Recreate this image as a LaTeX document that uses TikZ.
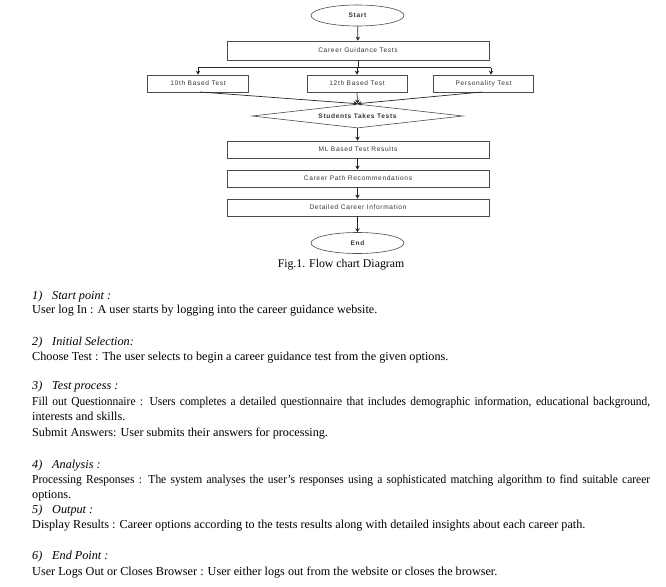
\documentclass[tikz,border=0pt]{standalone}
\usepackage{fontspec}
\setmainfont{Liberation Serif}
\newfontfamily\chartfont[LetterSpace=10]{Liberation Sans}
\usetikzlibrary{shapes.geometric,arrows.meta}
\begin{document}
\begin{tikzpicture}[x=1pt,y=-1pt,
  chart/.style={font=\chartfont\fontsize{6.6}{7}\selectfont, text=black!80},
  stepbox/.style={chart, draw=black!70, line width=0.7pt, inner sep=0pt, minimum width=262pt, minimum height=17pt},
  testbox/.style={chart, draw=black!70, line width=0.7pt, inner sep=0pt, minimum width=101pt, minimum height=17pt},
  term/.style={chart, font=\chartfont\bfseries\fontsize{6.6}{7}\selectfont, draw=black!70, line width=0.6pt, ellipse, inner sep=0pt, minimum width=93pt, minimum height=21pt},
  decision/.style={chart, font=\chartfont\bfseries\fontsize{6.6}{7}\selectfont, draw=black!70, line width=0.6pt, diamond, aspect=8.8, inner sep=0pt, minimum width=211pt, minimum height=24pt},
  arr/.style={draw=black!85, line width=0.7pt, -{Stealth[length=4pt,width=4.5pt]}},
  ln/.style={draw=black!85, line width=0.7pt},
  body/.style={font=\fontsize{12.2}{14}\selectfont, anchor=base west, inner sep=0pt},
  head/.style={font=\itshape\fontsize{12.2}{14}\selectfont, anchor=base west, inner sep=0pt}
]
\useasboundingbox (0,0) rectangle (666,586);

% flowchart
\node[term] (start) at (357.5,15.5) {Start};
\node[stepbox, minimum height=19pt] (cgt) at (358,50.5) {Career Guidance Tests};
\node[testbox] (t10) at (198,83.5) {10th Based Test};
\node[testbox, minimum width=100pt] (t12) at (357,83.5) {12th Based Test};
\node[testbox, minimum width=100pt] (pers) at (483.5,83.5) {Personality Test};
\node[decision] (dec) at (357.5,116) {Students Takes Tests};
\node[stepbox] (ml) at (358,149.5) {ML Based Test Results};
\node[stepbox] (cpr) at (358,178.5) {Career Path Recommendations};
\node[stepbox] (dci) at (358,207.5) {Detailed Career Information};
\node[term] (end) at (357.5,243) {End};

\coordinate (b0) at (358,67.5);
\coordinate (b1) at (198,67.5);
\coordinate (b2) at (357,67.5);
\coordinate (b3) at (491,67.5);
\coordinate (p10) at (200,92);
\coordinate (pp) at (482,92);

\draw[arr] (start) -- (cgt);
\draw[ln] (cgt.south -| b0) -- (b0);
\draw[ln] (b1) -- (b3);
\draw[arr] (b1) -- (b1 |- t10.north);
\draw[arr] (b2) -- (b2 |- t12.north);
\draw[arr] (b3) -- (b3 |- pers.north);
\draw[arr] (p10) -- (dec.north);
\draw[arr] (t12.south) -- (dec.north);
\draw[arr] (pp) -- (dec.north);
\draw[arr] (dec.south) -- (dec.south |- ml.north);
\draw[arr] (ml.south -| dec.south) -- (cpr.north -| dec.south);
\draw[arr] (cpr.south -| dec.south) -- (dci.north -| dec.south);
\draw[arr] (dci.south -| end.north) -- (end.north);

\node[font=\fontsize{11.8}{14}\selectfont, inner sep=0pt, anchor=base] (cap) at (341,267) {Fig.1. Flow chart Diagram};

% text
\node[head] (h1n) at (32,299) {1)};
\node[head] (h1) at (52,299) {Start point :};
\node[body] (l1) at (32,313) {User log In : A user starts by logging into the career guidance website.};
\node[head] (h2n) at (32,345) {2)};
\node[head] (h2) at (52,345) {Initial Selection:};
\node[body] (l2) at (32,360) {Choose Test : The user selects to begin a career guidance test from the given options.};
\node[head] (h3n) at (32,389) {3)};
\node[head] (h3) at (52,389) {Test process :};
\node[body] (l3a) at (32,405) {\scalebox{0.94}[1]{\makebox[657.4pt][s]{Fill out Questionnaire : Users completes a detailed questionnaire that includes demographic information, educational background,}}};
\node[body] (l3b) at (32,420) {interests and skills.};
\node[body] (l3c) at (32,436) {Submit Answers: User submits their answers for processing.};
\node[head] (h4n) at (32,468) {4)};
\node[head] (h4) at (52,468) {Analysis :};
\node[body] (l4a) at (32,483) {\scalebox{0.94}[1]{\makebox[657.4pt][s]{Processing Responses : The system analyses the user’s responses using a sophisticated matching algorithm to find suitable career}}};
\node[body] (l4b) at (32,498) {options.};
\node[head] (h5n) at (32,513) {5)};
\node[head] (h5) at (52,513) {Output :};
\node[body] (l5) at (32,528) {Display Results : Career options according to the tests results along with detailed insights about each career path.};
\node[head] (h6n) at (32,559) {6)};
\node[head] (h6) at (52,559) {End Point :};
\node[body] (l6) at (32,575) {User Logs Out or Closes Browser : User either logs out from the website or closes the browser.};
\end{tikzpicture}
\end{document}
